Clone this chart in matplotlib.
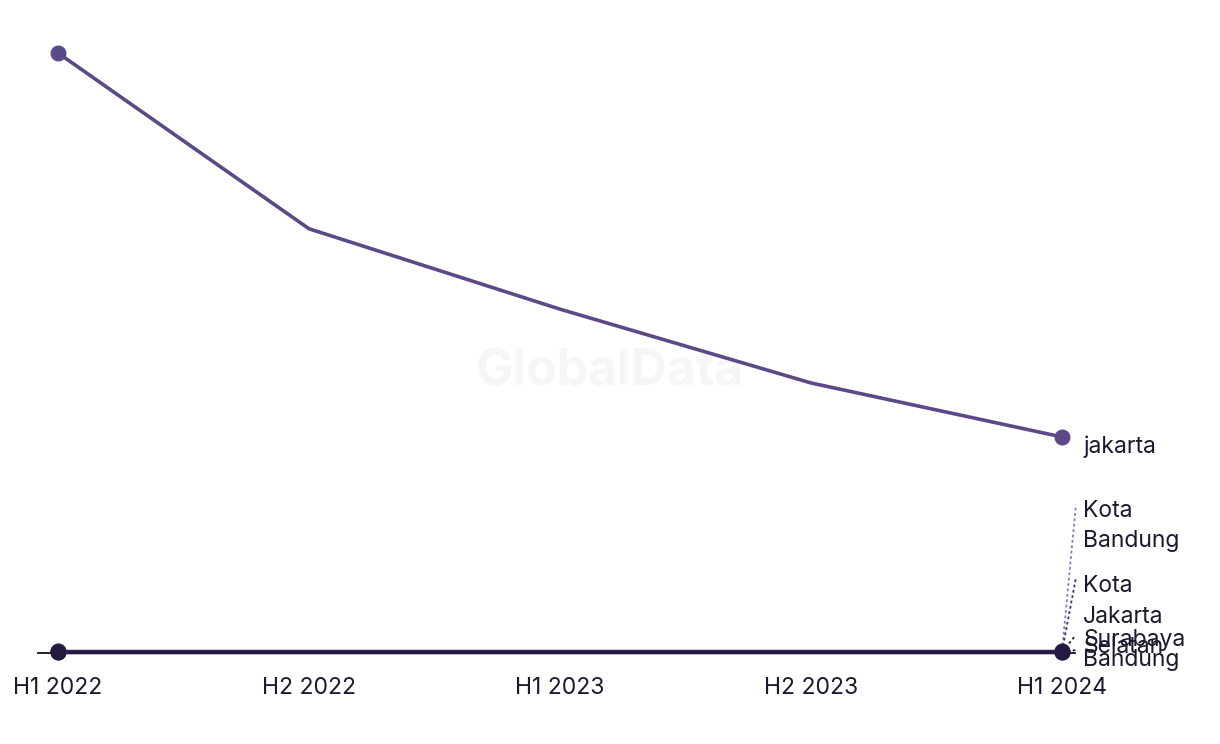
import matplotlib.pyplot as plt

plt.rcParams['font.family'] = ['Inter', 'DejaVu Sans']

periods = ['H1 2022', 'H2 2022', 'H1 2023', 'H2 2023', 'H1 2024']
jakarta = [100.0, 70.7, 57.3, 45.0, 36.0]
kota_bandung = [0.4, 0.4, 0.4, 0.4, 0.4]
kota_jakarta_selatan = [0.3, 0.3, 0.3, 0.3, 0.3]
surabaya = [0.2, 0.2, 0.2, 0.2, 0.2]
bandung = [0.1, 0.1, 0.1, 0.1, 0.1]

# name, values, colour, label centre, leader-line end
small_series = [
    ('Kota\nBandung', kota_bandung, '#8a78b8', 21.2, 24.7),
    ('Kota\nJakarta\nSelatan', kota_jakarta_selatan, '#3b2d63', 6.0, 12.5),
    ('Surabaya', surabaya, '#2a1f4a', 2.2, 3.0),
    ('Bandung', bandung, '#241a40', -1.2, 0.5),
]

fig = plt.figure(figsize=(12.2, 7.44), dpi=100)
ax = fig.add_axes([0, 0, 1, 1])
x = list(range(len(periods)))

# baseline
ax.plot([-0.08, 4.05], [0, 0], color='#111111', lw=1.3, zorder=1)

# watermark
ax.text(2.2, 46.8, 'GlobalData', fontsize=36, fontweight='bold', color='#f6f6f6',
        ha='center', va='center', zorder=0)

for name, vals, col, ylab, yend in small_series:
    ax.plot(x, vals, color=col, lw=2.4, zorder=2)
    ax.plot([x[0], x[-1]], [vals[0], vals[-1]], 'o', color=col, ms=10.5, zorder=3)
    ax.plot([x[-1], 4.055], [vals[-1], yend],
            ls=(0, (1.5, 1.5)), color=col, lw=1.3, zorder=2)
    ax.text(4.084, ylab, name, fontsize=16.5, color='#1a1a2e', ha='left', va='center',
            linespacing=1.5, zorder=4)

ax.plot(x, jakarta, color='#5b4a87', lw=2.6, zorder=3)
ax.plot([x[0], x[-1]], [jakarta[0], jakarta[-1]], 'o', color='#5b4a87', ms=10.5, zorder=4)
ax.text(4.084, 34.4, 'jakarta', fontsize=16.5, color='#1a1a2e', ha='left', va='center')

for xi, lab in zip(x, periods):
    ax.text(xi, -5.8, lab, fontsize=16.5, color='#1a1a2e', ha='center', va='center')

ax.set_xlim(-0.231, 4.629)
ax.set_ylim(-15.17, 108.83)
ax.axis('off')

fig.savefig('out.png', dpi=100)
